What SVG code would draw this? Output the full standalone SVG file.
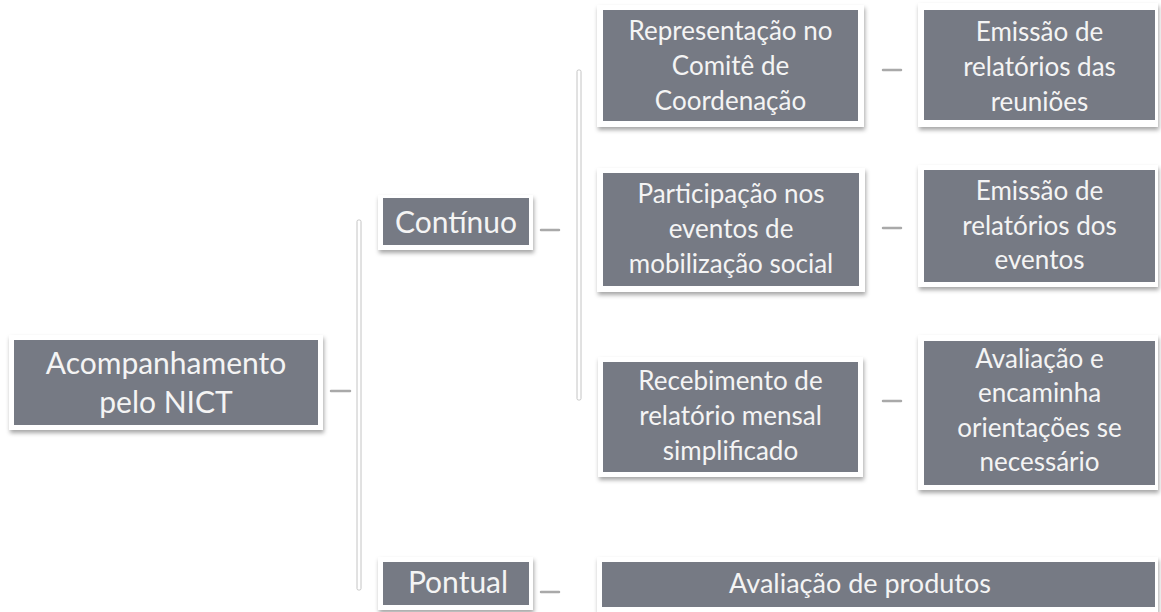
<svg xmlns="http://www.w3.org/2000/svg" width="1161" height="612" viewBox="0 0 1161 612">
<defs>
<filter id="sh" x="-10%" y="-10%" width="120%" height="130%">
<feDropShadow dx="1" dy="3" stdDeviation="2" flood-color="#000" flood-opacity="0.35"/>
</filter>
</defs>
<style>
.frame{fill:#fff;filter:url(#sh)}
.box{fill:#767a84}
.t{font-family:Lato,"Open Sans",sans-serif;font-size:26px;fill:#f4f4f4;text-anchor:middle}
.tb{font-family:Lato,"Open Sans",sans-serif;font-size:30px;fill:#f4f4f4;text-anchor:middle}
.tp{font-family:Lato,"Open Sans",sans-serif;font-size:27px;fill:#f4f4f4;text-anchor:middle}
.stub{stroke:#a9a9a9;stroke-width:2.5;stroke-linecap:round}
.bar{fill:#fff;stroke:#c4c4c4;stroke-width:1}
</style>
<rect width="1161" height="612" fill="#fff"/>
<g id="connectors">
<rect class="bar" x="357" y="220" width="4" height="370" rx="1.5"/>
<rect class="bar" x="577" y="70" width="4" height="330" rx="1.5"/>
<line class="stub" x1="331" y1="391" x2="350" y2="391"/>
<line class="stub" x1="541" y1="230" x2="559" y2="230"/>
<line class="stub" x1="541" y1="592" x2="559" y2="592"/>
<line class="stub" x1="883" y1="70" x2="901" y2="70"/>
<line class="stub" x1="883" y1="228" x2="901" y2="228"/>
<line class="stub" x1="883" y1="401" x2="901" y2="401"/>
</g>
<g id="root">
<rect class="frame" x="9" y="335" width="314" height="95"/>
<rect class="box" x="14" y="340" width="304" height="85"/>
<text class="tb" x="166" y="374">Acompanhamento</text>
<text class="tb" x="166" y="413">pelo NICT</text>
</g>
<g id="continuo">
<rect class="frame" x="378" y="195" width="155" height="55"/>
<rect class="box" x="383" y="198" width="146" height="47"/>
<text class="tb" x="456" y="233">Contínuo</text>
</g>
<g id="pontual">
<rect class="frame" x="378" y="557" width="155" height="53"/>
<rect class="box" x="383" y="562" width="146" height="43"/>
<text class="tb" x="458" y="593">Pontual</text>
</g>
<g id="representacao">
<rect class="frame" x="597" y="5" width="267" height="122"/>
<rect class="box" x="603" y="10" width="255" height="111"/>
<text class="t" x="730.5" y="40">Representação no</text>
<text class="t" x="730.5" y="75">Comitê de</text>
<text class="t" x="730.5" y="110">Coordenação</text>
</g>
<g id="participacao">
<rect class="frame" x="597" y="168" width="268" height="124"/>
<rect class="box" x="603" y="173" width="256" height="113"/>
<text class="t" x="731" y="203">Participação nos</text>
<text class="t" x="731" y="238">eventos de</text>
<text class="t" x="731" y="273">mobilização social</text>
</g>
<g id="recebimento">
<rect class="frame" x="598" y="357" width="265" height="120"/>
<rect class="box" x="603" y="362" width="255" height="110"/>
<text class="t" x="730.5" y="390">Recebimento de</text>
<text class="t" x="730.5" y="425">relatório mensal</text>
<text class="t" x="730.5" y="460">simplificado</text>
</g>
<g id="emissao-reunioes">
<rect class="frame" x="918" y="3" width="240" height="124"/>
<rect class="box" x="924" y="10" width="231" height="110"/>
<text class="t" x="1039.5" y="41">Emissão de</text>
<text class="t" x="1039.5" y="76">relatórios das</text>
<text class="t" x="1039.5" y="111">reuniões</text>
</g>
<g id="emissao-eventos">
<rect class="frame" x="918" y="165" width="240" height="122"/>
<rect class="box" x="924" y="170" width="231" height="112"/>
<text class="t" x="1039.5" y="200">Emissão de</text>
<text class="t" x="1039.5" y="235">relatórios dos</text>
<text class="t" x="1039.5" y="269">eventos</text>
</g>
<g id="avaliacao-encaminha">
<rect class="frame" x="918" y="335" width="240" height="155"/>
<rect class="box" x="924" y="341" width="231" height="144"/>
<text class="t" x="1039.5" y="368">Avaliação e</text>
<text class="t" x="1039.5" y="402">encaminha</text>
<text class="t" x="1039.5" y="437">orientações se</text>
<text class="t" x="1039.5" y="471">necessário</text>
</g>
<g id="avaliacao-produtos">
<rect class="frame" x="597" y="557" width="561" height="55"/>
<rect class="box" x="602" y="562" width="553" height="45"/>
<text class="tp" x="860" y="593">Avaliação de produtos</text>
</g>
</svg>
